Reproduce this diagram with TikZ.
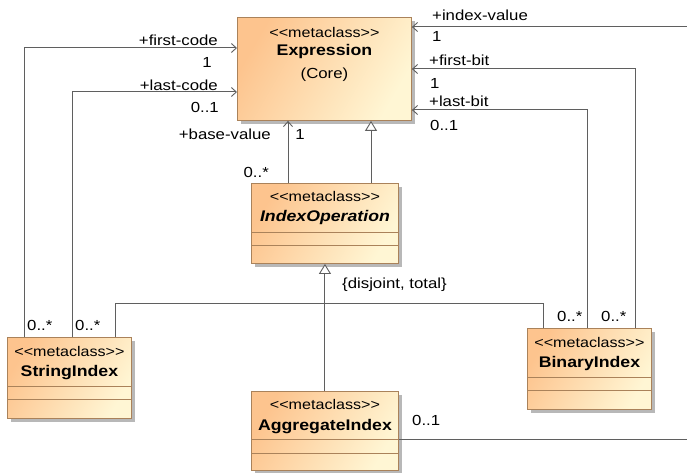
\documentclass[tikz,border=0pt]{standalone}
\usepackage{fontspec}
\setmainfont{Liberation Sans}[FakeStretch=1.15]
\usetikzlibrary{arrows.meta,shadows,calc}
\definecolor{clsA}{RGB}{253,196,142}
\definecolor{clsB}{RGB}{255,246,212}
\definecolor{clsline}{RGB}{170,130,90}
\definecolor{conn}{RGB}{95,95,95}
\newcommand{\stereo}{<\kern0pt<metaclass>\kern0pt>}
\tikzset{
  umlbox/.style={draw=clsline, line width=0.9pt, anchor=north west, inner sep=0pt,
    top color=clsA, bottom color=clsB, shading angle=60,
    drop shadow={shadow xshift=3.5pt, shadow yshift=-3.5pt, fill=black!28, opacity=1}},
  sttext/.style={font=\fontsize{14}{16}\selectfont, inner sep=0pt},
  nametext/.style={font=\fontsize{15.4}{17}\selectfont\bfseries, inner sep=0pt},
  lbl/.style={font=\fontsize{14.6}{16}\selectfont, inner sep=0pt},
  comp/.style={draw=clsline, line width=0.9pt},
  assoc/.style={draw=conn, line width=1pt, -{Straight Barb[length=5pt,width=9pt,line width=0.9pt]}},
  plain/.style={draw=conn, line width=1pt},
  gen/.style={draw=conn, line width=1pt, -{Triangle[open,length=10pt,width=12pt,fill=white,line width=0.9pt]}}
}
\begin{document}
\begin{tikzpicture}[x=1pt,y=-1pt]
\useasboundingbox (0,0) rectangle (687,473);
% boxes
\node[umlbox, minimum width=174pt, minimum height=103pt] (expr) at (237,17) {};
\node[umlbox, minimum width=147pt, minimum height=80pt] (io) at (251,183) {};
\node[umlbox, minimum width=124pt, minimum height=81pt] (si) at (7,337) {};
\node[umlbox, minimum width=124pt, minimum height=81pt] (bi) at (527,328) {};
\node[umlbox, minimum width=147pt, minimum height=79pt] (ai) at (251,391) {};
% texts in Expression
\node[sttext] (exprst) at ([yshift=-15pt]expr.north) {\stereo};
\node[nametext] (exprnm) at ([yshift=-35pt]expr.north) {Expression};
\node[lbl] (exprcore) at ([yshift=-58pt]expr.north) {(Core)};
% class texts and compartments
\node[sttext] (iost) at ([yshift=-13.5pt]io.north) {\stereo};
\node[nametext] (ionm) at ([yshift=-35pt]io.north) {\itshape IndexOperation};
\draw[comp] ([yshift=-49pt]io.north west) -- ([yshift=-49pt]io.north east);
\draw[comp] ([yshift=-62pt]io.north west) -- ([yshift=-62pt]io.north east);

\node[sttext] (sist) at ([yshift=-14pt]si.north) {\stereo};
\node[nametext] (sinm) at ([yshift=-36pt]si.north) {StringIndex};
\draw[comp] ([yshift=-49pt]si.north west) -- ([yshift=-49pt]si.north east);
\draw[comp] ([yshift=-62pt]si.north west) -- ([yshift=-62pt]si.north east);

\node[sttext] (bist) at ([yshift=-14pt]bi.north) {\stereo};
\node[nametext] (binm) at ([yshift=-36pt]bi.north) {BinaryIndex};
\draw[comp] ([yshift=-49pt]bi.north west) -- ([yshift=-49pt]bi.north east);
\draw[comp] ([yshift=-62pt]bi.north west) -- ([yshift=-62pt]bi.north east);

\node[sttext] (aist) at ([yshift=-13pt]ai.north) {\stereo};
\node[nametext] (ainm) at ([yshift=-36pt]ai.north) {AggregateIndex};
\draw[comp] ([yshift=-48pt]ai.north west) -- ([yshift=-48pt]ai.north east);
\draw[comp] ([yshift=-62pt]ai.north west) -- ([yshift=-62pt]ai.north east);

% free ends at the right border
\coordinate (rtop) at (687,27);
\coordinate (rbot) at (687,439);

% associations
\draw[assoc] ([xshift=17pt]si.north west) |- ([yshift=-31pt]expr.north west);
\draw[assoc] ([xshift=65pt]si.north west) |- ([yshift=-75pt]expr.north west);
\draw[assoc] ([xshift=37pt]io.north west) -- ([xshift=51pt]expr.south west);
\draw[assoc] (rtop) -- (rtop -| expr.east);
\draw[assoc] ([xshift=108pt]bi.north west) |- ([yshift=-52pt]expr.north east);
\draw[assoc] ([xshift=60pt]bi.north west) |- ([yshift=-93pt]expr.north east);
\draw[plain] ([yshift=-48pt]ai.north east) -- (rbot);

% generalizations
\draw[gen] ([xshift=120pt]io.north west) -- ([xshift=134pt]expr.south west);
\draw[plain] ([xshift=108pt]si.north west) |- ($(io.south)+(0,-40pt)$) coordinate (gj) -| ([xshift=16pt]bi.north west);
\draw[gen] (ai.north) -- (io.south);

% labels
\node[lbl, anchor=east] (l1) at (218,40) {+first-code};
\node[lbl] (l2) at (207,62) {1};
\node[lbl, anchor=east] (l3) at (218,85) {+last-code};
\node[lbl, anchor=east] (l4) at (219,107) {0..1};
\node[lbl, anchor=east] (l5) at (271,134) {+base-value};
\node[lbl] (l6) at (300,134) {1};
\node[lbl, anchor=east] (l7) at (269,172) {0..*};
\node[lbl, anchor=west] (r1) at (432,15) {+index-value};
\node[lbl, anchor=west] (r2) at (432,36) {1};
\node[lbl, anchor=west] (r3) at (429,60) {+first-bit};
\node[lbl, anchor=west] (r4) at (430,83) {1};
\node[lbl, anchor=west] (r5) at (429,101) {+last-bit};
\node[lbl, anchor=west] (r6) at (430,125) {0..1};
\node[lbl, anchor=west] (dj) at (342,285) {\{disjoint, total\}};
\node[lbl, anchor=west] (b1) at (557,316) {0..*};
\node[lbl, anchor=west] (b2) at (601,316) {0..*};
\node[lbl, anchor=west] (s1) at (27,325) {0..*};
\node[lbl, anchor=west] (s2) at (75,325) {0..*};
\node[lbl, anchor=west] (a1) at (412,420) {0..1};
\end{tikzpicture}
\end{document}
